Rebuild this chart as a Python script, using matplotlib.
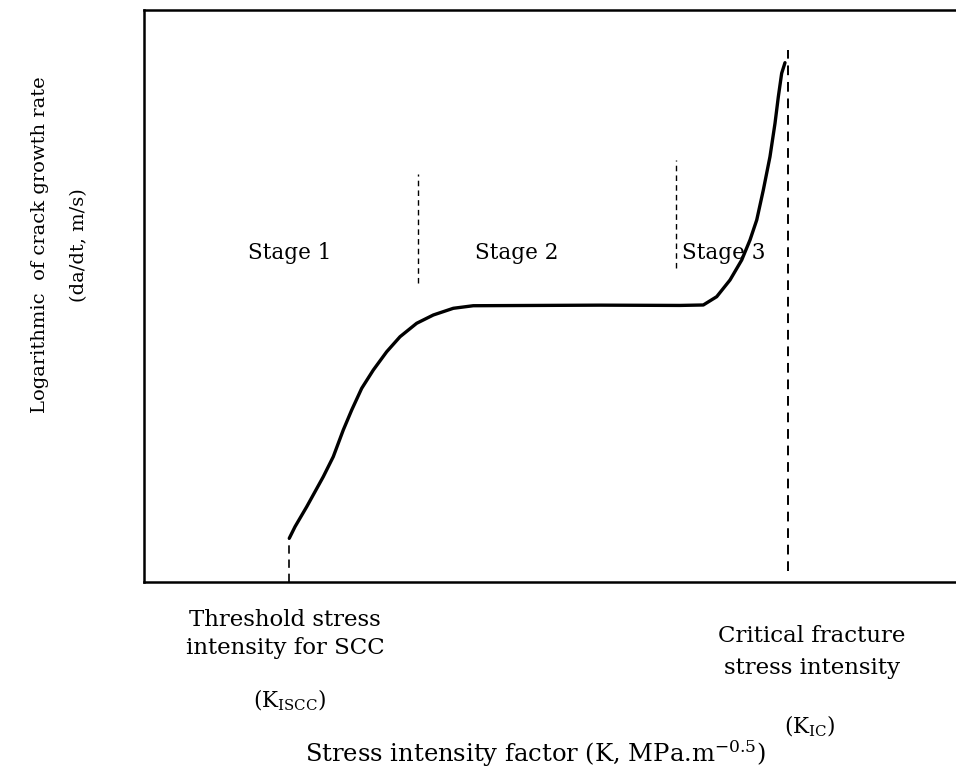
import matplotlib

matplotlib.use("Agg")
import matplotlib.pyplot as plt

# Schematic SCC crack growth curve, arbitrary units (K on 0-100, log rate on 0-100).
k_curve = [17.89, 18.60, 20.04, 22.08, 23.31, 24.54, 25.58, 26.81, 28.24, 29.89,
           31.53, 33.58, 35.63, 38.09, 40.55, 56.16, 66.01, 68.88, 70.53, 72.17,
           73.61, 74.63, 75.46, 76.27, 77.09, 77.71, 78.12, 78.53, 78.94]
rate_curve = [7.64, 9.67, 13.16, 18.41, 21.91, 26.57, 30.07, 33.86, 37.06, 40.26,
              42.88, 45.23, 46.68, 47.85, 48.30, 48.40, 48.35, 48.43, 49.88, 52.80,
              56.29, 59.79, 63.29, 68.53, 74.35, 80.19, 84.84, 88.93, 90.79]

k_iscc = 17.89
k_ic = 79.35
k_ic_span = (1.9, 93.0)
stage_bounds = [33.74, 65.52]
stage_spans = [(52.3, 71.3), (54.9, 73.8)]
stage_labels = ["Stage 1", "Stage 2", "Stage 3"]
stage_label_x = [17.98, 45.94, 66.26]
stage_label_y = 57.5

plt.rcParams["font.family"] = "DejaVu Serif"
plt.rcParams["mathtext.fontset"] = "dejavuserif"

fig = plt.figure(figsize=(9.56, 7.71), dpi=100)
ax = fig.add_axes([144 / 956, 1 - 582 / 771, 1 - 144 / 956, (582 - 10) / 771])
ax.set_xlim(0, 100)
ax.set_ylim(0, 100)
ax.set_xticks([])
ax.set_yticks([])
ax.spines["right"].set_visible(False)
for side in ["left", "top", "bottom"]:
    ax.spines[side].set_linewidth(1.8)

dash = (0, (5, 3.5))
ax.plot(k_curve, rate_curve, color="black", lw=2.4, solid_capstyle="round",
        solid_joinstyle="round")
ax.plot([k_iscc, k_iscc], [0, rate_curve[0]], color="black", lw=1.2, linestyle=dash)
ax.plot([k_ic, k_ic], k_ic_span, color="black", lw=1.4, linestyle=dash)
for xb, (y0, y1) in zip(stage_bounds, stage_spans):
    ax.plot([xb, xb], [y0, y1], color="black", lw=1.0, linestyle=(0, (4, 3)))

for lab, xs, ha in zip(stage_labels, stage_label_x, ["center", "center", "left"]):
    ax.text(xs, stage_label_y, lab, ha=ha, va="center", fontsize=15.5)

# Axis titles and threshold annotations below the frame
fig.text(0.042, 0.682, "Logarithmic  of crack growth rate", rotation=90,
         ha="center", va="center", fontsize=14)
fig.text(0.083, 0.682, "(da/dt, m/s)", rotation=90, ha="center", va="center", fontsize=14)

fig.text(0.298, 0.196, "Threshold stress", ha="center", va="center", fontsize=16.5)
fig.text(0.298, 0.160, "intensity for SCC", ha="center", va="center", fontsize=16.5)
fig.text(0.303, 0.092, r"(K$_{\mathrm{ISCC}}$)", ha="center", va="center", fontsize=15.5)

fig.text(0.849, 0.175, "Critical fracture", ha="center", va="center", fontsize=16.5)
fig.text(0.849, 0.134, "stress intensity", ha="center", va="center", fontsize=16.5)
fig.text(0.847, 0.058, r"(K$_{\mathrm{IC}}$)", ha="center", va="center", fontsize=15.5)

fig.text(0.560, 0.022, r"Stress intensity factor (K, MPa.m$^{-0.5}$)",
         ha="center", va="center", fontsize=17.5)

fig.savefig("out.png", dpi=100)
